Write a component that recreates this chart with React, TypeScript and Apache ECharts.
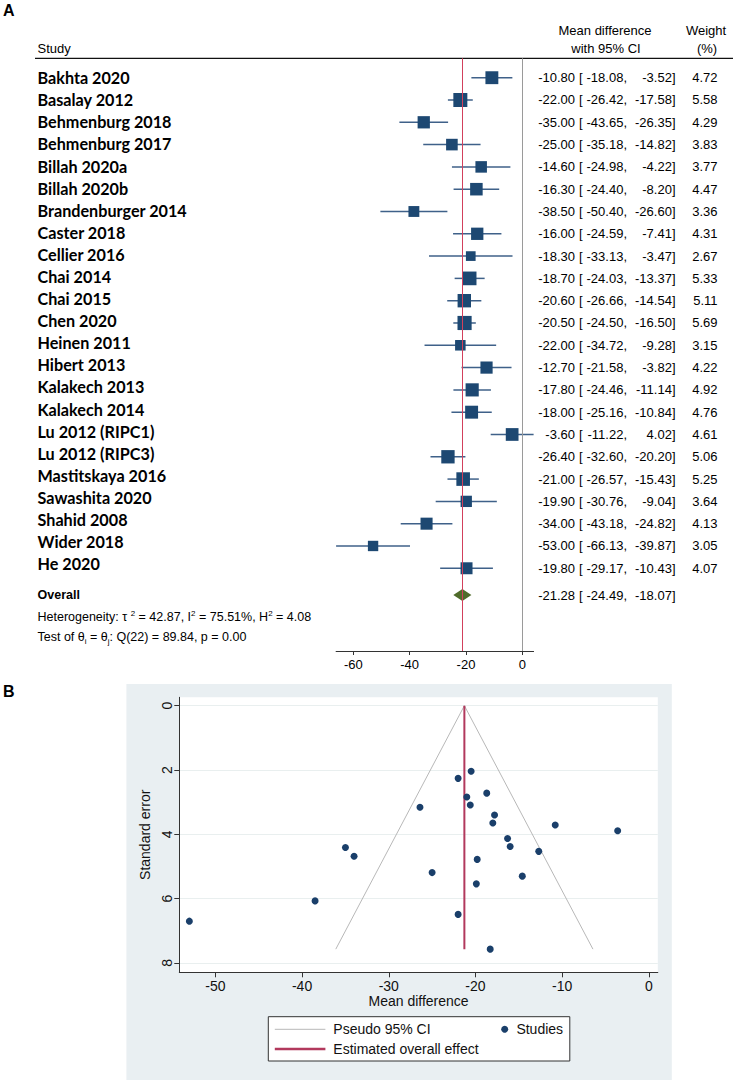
import React, { useEffect, useRef } from "react";
import * as echarts from "echarts";

// ---------------- DATA ----------------
const studies = [
  "Bakhta 2020", "Basalay 2012", "Behmenburg 2018", "Behmenburg 2017", "Billah 2020a",
  "Billah 2020b", "Brandenburger 2014", "Caster 2018", "Cellier 2016", "Chai 2014",
  "Chai 2015", "Chen 2020", "Heinen 2011", "Hibert 2013", "Kalakech 2013",
  "Kalakech 2014", "Lu 2012 (RIPC1)", "Lu 2012 (RIPC3)", "Mastitskaya 2016", "Sawashita 2020",
  "Shahid 2008", "Wider 2018", "He 2020",
];
const meanDiff = [-10.8, -22.0, -35.0, -25.0, -14.6, -16.3, -38.5, -16.0, -18.3, -18.7, -20.6, -20.5, -22.0, -12.7, -17.8, -18.0, -3.6, -26.4, -21.0, -19.9, -34.0, -53.0, -19.8];
const ciLower = [-18.08, -26.42, -43.65, -35.18, -24.98, -24.4, -50.4, -24.59, -33.13, -24.03, -26.66, -24.5, -34.72, -21.58, -24.46, -25.16, -11.22, -32.6, -26.57, -30.76, -43.18, -66.13, -29.17];
const ciUpper = [-3.52, -17.58, -26.35, -14.82, -4.22, -8.2, -26.6, -7.41, -3.47, -13.37, -14.54, -16.5, -9.28, -3.82, -11.14, -10.84, 4.02, -20.2, -15.43, -9.04, -24.82, -39.87, -10.43];
const weights = [4.72, 5.58, 4.29, 3.83, 3.77, 4.47, 3.36, 4.31, 2.67, 5.33, 5.11, 5.69, 3.15, 4.22, 4.92, 4.76, 4.61, 5.06, 5.25, 3.64, 4.13, 3.05, 4.07];
const stdErr = [3.71, 2.26, 4.41, 5.19, 5.3, 4.13, 6.07, 4.38, 7.57, 2.72, 3.09, 2.04, 6.49, 4.53, 3.4, 3.65, 3.89, 3.16, 2.84, 5.54, 4.68, 6.7, 4.78];

const overallEst = -21.28;
const overallLower = -24.49;
const overallUpper = -18.07;

const forestTicks = [-60, -40, -20, 0];
const funnelXTicks = [-50, -40, -30, -20, -10, 0];
const funnelYTicks = [0, 2, 4, 6, 8];

const pseudoCiLeft = [[-21.28, 0], [-36.11, 7.57]];
const pseudoCiRight = [[-21.28, 0], [-6.45, 7.57]];
const overallEffectLine = [[-21.28, 0], [-21.28, 7.57]];

// ---------------- STYLE ----------------
const SANS = '"Liberation Sans", Arial, sans-serif';
const LABEL_FONT = 'bold 16.2px Lato, "Liberation Sans", sans-serif';
const NUM_FONT = '13px "Liberation Sans", Arial, sans-serif';
const SQUARE_COLOR = "#1d4872";
const CI_COLOR = "#3f6189";
const DIAMOND_COLOR = "#4f6b2a";
const RED_A = "#d2405c";
const RED_B = "#b2395d";
const DOT_COLOR = "#1a3f6a";
const FUNNEL_GREY = "#b8b8b8";

const ROW_MIN = -0.87;
const ROW_MAX = 25.71;
const LABEL_DRIFT = 0.9906;
const OVERALL_ROW = 23.2;
const HET_ROW = 24.2;
const TEST_ROW = 25.1;
const SQUARE_SCALE = 5.93;

const COL = { label: 37.5, est: 575, bracket: 579, lower: 627, upper: 675.5, weight: 717.5 };

function txt(text: string, x: number, y: number, align: string, font: string, fill = "#000") {
  return {
    type: "text",
    style: { text, x, y, font, fill, align, textAlign: align, verticalAlign: "middle", textVerticalAlign: "middle" },
  };
}

function buildOption(): any {
  const rows = studies.map((_, i) => i);

  return {
    animation: false,
    backgroundColor: "#fff",
    grid: [
      { left: 336.1, top: 58.3, width: 197.5, height: 592.7 },
      { left: 0, top: 58.3, width: 733, height: 592.7 },
      { left: 179.3, top: 697.3, width: 478.5, height: 275, show: true, backgroundColor: "#fff", borderWidth: 0 },
    ],
    xAxis: [
      {
        gridIndex: 0, type: "value", min: -66.13, max: 4.02,
        axisLine: { show: true, onZero: false, lineStyle: { color: "#333", width: 1 } },
        axisTick: { show: true, length: 4, customValues: forestTicks, lineStyle: { color: "#333" } },
        axisLabel: { customValues: forestTicks, fontSize: 13, fontFamily: SANS, color: "#000", margin: 7 },
        splitLine: { show: false },
      },
      { gridIndex: 1, type: "value", min: 0, max: 733, show: false },
      {
        gridIndex: 2, type: "value", min: -54.16, max: 1.03,
        axisLine: { show: true, onZero: false, lineStyle: { color: "#333", width: 1 } },
        axisTick: { show: true, length: 5, customValues: funnelXTicks, lineStyle: { color: "#333" } },
        axisLabel: { customValues: funnelXTicks, fontSize: 14, fontFamily: SANS, color: "#111", margin: 7 },
        splitLine: { show: false },
        name: "Mean difference", nameLocation: "middle", nameGap: 22,
        nameTextStyle: { fontSize: 14, fontFamily: SANS, color: "#111" },
      },
    ],
    yAxis: [
      { gridIndex: 0, type: "value", inverse: true, min: ROW_MIN, max: ROW_MAX, show: false },
      { gridIndex: 1, type: "value", inverse: true, min: ROW_MIN, max: ROW_MAX, show: false },
      {
        gridIndex: 2, type: "value", inverse: true, min: -0.26, max: 8.29,
        axisLine: { show: true, onZero: false, lineStyle: { color: "#333", width: 1 } },
        axisTick: { show: true, length: 5, customValues: funnelYTicks, lineStyle: { color: "#333" } },
        axisLabel: { customValues: funnelYTicks, rotate: 90, fontSize: 14, fontFamily: SANS, color: "#111", margin: 5 },
        splitLine: { show: true, lineStyle: { color: "#e9efef", width: 1 } },
        name: "Standard error", nameLocation: "middle", nameGap: 24, nameRotate: 90,
        nameTextStyle: { fontSize: 14, fontFamily: SANS, color: "#111" },
      },
    ],
    graphic: [
      { type: "rect", z: -10, shape: { x: 126.4, y: 684, width: 545.4, height: 396 }, style: { fill: "#e9eff2" } },
      txt("A", 3, 10, "left", 'bold 16px "Liberation Sans", Arial, sans-serif'),
      txt("B", 3, 691, "left", 'bold 16px "Liberation Sans", Arial, sans-serif'),
      txt("Study", COL.label, 48, "left", NUM_FONT),
      txt("Mean difference", 605, 30.7, "center", NUM_FONT),
      txt("with 95% CI", 606, 48, "center", NUM_FONT),
      txt("Weight", 706, 30.7, "center", NUM_FONT),
      txt("(%)", 707, 48, "center", NUM_FONT),
      { type: "line", shape: { x1: 35, y1: 58.3, x2: 733, y2: 58.3 }, style: { stroke: "#111", lineWidth: 1.2 } },
      {
        type: "group",
        children: [
          { type: "rect", shape: { x: 268.3, y: 1016.7, width: 301.5, height: 44.3 }, style: { fill: "#fff", stroke: "#333", lineWidth: 1 } },
          { type: "line", shape: { x1: 274.8, y1: 1029.3, x2: 325.4, y2: 1029.3 }, style: { stroke: FUNNEL_GREY, lineWidth: 1 } },
          txt("Pseudo 95% CI", 333.3, 1029.3, "left", '14px "Liberation Sans", Arial, sans-serif', "#111"),
          { type: "circle", shape: { cx: 504.7, cy: 1029.3, r: 3.5 }, style: { fill: DOT_COLOR } },
          txt("Studies", 516.4, 1029.3, "left", '14px "Liberation Sans", Arial, sans-serif', "#111"),
          { type: "line", shape: { x1: 274.8, y1: 1049, x2: 325.4, y2: 1049 }, style: { stroke: RED_B, lineWidth: 2.5 } },
          txt("Estimated overall effect", 333.3, 1049, "left", '14px "Liberation Sans", Arial, sans-serif', "#111"),
        ],
      },
    ],
    series: [
      // Panel A reference lines
      {
        type: "line", xAxisIndex: 0, yAxisIndex: 0, data: [], z: 1, silent: true,
        markLine: {
          silent: true, symbol: ["none", "none"], label: { show: false }, animation: false,
          data: [
            { xAxis: 0, lineStyle: { color: "#9a9a9a", width: 1, type: "solid" } },
            { xAxis: overallEst, lineStyle: { color: RED_A, width: 1, type: "solid" } },
          ],
        },
      },
      // CI lines
      {
        type: "custom", xAxisIndex: 0, yAxisIndex: 0, z: 3, silent: true,
        data: rows.map((i) => [ciLower[i], ciUpper[i], i]),
        encode: { x: [0, 1], y: 2 },
        renderItem: (_p: any, api: any) => {
          const a = api.coord([api.value(0), api.value(2)]);
          const b = api.coord([api.value(1), api.value(2)]);
          return { type: "line", shape: { x1: a[0], y1: a[1], x2: b[0], y2: b[1] }, style: { stroke: CI_COLOR, lineWidth: 1.5 } };
        },
      },
      // weight squares
      {
        type: "scatter", xAxisIndex: 0, yAxisIndex: 0, z: 4, silent: true, symbol: "rect",
        data: rows.map((i) => [meanDiff[i], i, weights[i]]),
        symbolSize: (v: number[]) => SQUARE_SCALE * Math.sqrt(v[2]),
        itemStyle: { color: SQUARE_COLOR, opacity: 1 },
      },
      // overall diamond
      {
        type: "custom", xAxisIndex: 0, yAxisIndex: 0, z: 4, silent: true,
        data: [[overallLower, overallUpper, overallEst, OVERALL_ROW]],
        encode: { x: [0, 1, 2], y: 3 },
        renderItem: (_p: any, api: any) => {
          const row = api.value(3);
          const l = api.coord([api.value(0), row]);
          const r = api.coord([api.value(1), row]);
          const c = api.coord([api.value(2), row]);
          return {
            type: "polygon",
            shape: { points: [l, [c[0], c[1] - 6], r, [c[0], c[1] + 6]] },
            style: { fill: DIAMOND_COLOR },
          };
        },
      },
      // study text columns
      {
        type: "custom", xAxisIndex: 1, yAxisIndex: 1, z: 5, silent: true,
        data: rows.map((i) => [0, i]),
        encode: { x: 0, y: 1 },
        renderItem: (params: any, api: any) => {
          const i = params.dataIndex;
          const lp = api.coord([COL.label, i * LABEL_DRIFT]);
          const y = api.coord([0, i])[1];
          const xs = (c: number) => api.coord([c, i])[0];
          return {
            type: "group",
            children: [
              txt(studies[i], lp[0], lp[1], "left", LABEL_FONT),
              txt(meanDiff[i].toFixed(2), xs(COL.est), y, "right", NUM_FONT),
              txt("[", xs(COL.bracket), y, "left", NUM_FONT),
              txt(ciLower[i].toFixed(2) + ",", xs(COL.lower), y, "right", NUM_FONT),
              txt(ciUpper[i].toFixed(2) + "]", xs(COL.upper), y, "right", NUM_FONT),
              txt(weights[i].toFixed(2), xs(COL.weight), y, "right", NUM_FONT),
            ],
          };
        },
      },
      // overall + heterogeneity text
      {
        type: "custom", xAxisIndex: 1, yAxisIndex: 1, z: 5, silent: true,
        data: [[0, OVERALL_ROW]],
        encode: { x: 0, y: 1 },
        renderItem: (_p: any, api: any) => {
          const xs = (c: number) => api.coord([c, OVERALL_ROW])[0];
          const y = api.coord([0, OVERALL_ROW])[1];
          const yh = api.coord([0, HET_ROW])[1];
          const yt = api.coord([0, TEST_ROW])[1];
          const rich = {
            n: { fontSize: 12.5, fontFamily: SANS, lineHeight: 16, fill: "#000" },
            s: { fontSize: 8, fontFamily: SANS, lineHeight: 9, verticalAlign: "top", fill: "#000" },
            b: { fontSize: 8, fontFamily: SANS, lineHeight: 9, verticalAlign: "bottom", fill: "#000" },
          };
          return {
            type: "group",
            children: [
              txt("Overall", xs(COL.label), y, "left", 'bold 12.5px "Liberation Sans", Arial, sans-serif'),
              txt(overallEst.toFixed(2), xs(COL.est), y, "right", NUM_FONT),
              txt("[", xs(COL.bracket), y, "left", NUM_FONT),
              txt(overallLower.toFixed(2) + ",", xs(COL.lower), y, "right", NUM_FONT),
              txt(overallUpper.toFixed(2) + "]", xs(COL.upper), y, "right", NUM_FONT),
              {
                type: "text",
                style: {
                  text: "{n|Heterogeneity: τ }{s|2}{n| = 42.87, I}{s|2}{n| = 75.51%, H}{s|2}{n| = 4.08}",
                  rich, x: xs(COL.label), y: yh, fill: "#000",
                  align: "left", textAlign: "left", verticalAlign: "middle", textVerticalAlign: "middle",
                },
              },
              {
                type: "text",
                style: {
                  text: "{n|Test of θ}{b|i}{n| = θ}{b|j}{n|: Q(22) = 89.84, p = 0.00}",
                  rich, x: xs(COL.label), y: yt, fill: "#000",
                  align: "left", textAlign: "left", verticalAlign: "middle", textVerticalAlign: "middle",
                },
              },
            ],
          };
        },
      },
      // Panel B funnel
      {
        type: "line", xAxisIndex: 2, yAxisIndex: 2, z: 2, silent: true, symbol: "none",
        data: pseudoCiLeft, lineStyle: { color: FUNNEL_GREY, width: 1 },
      },
      {
        type: "line", xAxisIndex: 2, yAxisIndex: 2, z: 2, silent: true, symbol: "none",
        data: pseudoCiRight, lineStyle: { color: FUNNEL_GREY, width: 1 },
      },
      {
        type: "line", xAxisIndex: 2, yAxisIndex: 2, z: 3, silent: true, symbol: "none",
        data: overallEffectLine, lineStyle: { color: RED_B, width: 2 },
      },
      {
        type: "scatter", xAxisIndex: 2, yAxisIndex: 2, z: 4, silent: true, symbol: "circle",
        data: rows.map((i) => [meanDiff[i], stdErr[i]]), symbolSize: 7,
        itemStyle: { color: DOT_COLOR, opacity: 1 },
      },
    ],
  };
}

export default function App() {
  const ref = useRef<HTMLDivElement>(null);
  useEffect(() => {
    document.body.style.margin = "0";
    const chart = echarts.init(ref.current!, null, { renderer: "svg" });
    chart.setOption(buildOption());
    return () => chart.dispose();
  }, []);
  return <div ref={ref} style={{ width: 733, height: 1082, background: "#fff" }} />;
}
